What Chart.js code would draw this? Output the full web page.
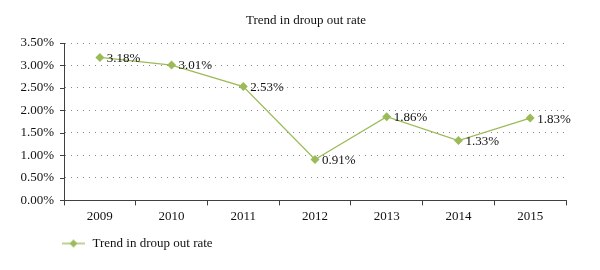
<!doctype html>
<html lang="en">
<head>
<meta charset="utf-8">
<title>Trend in droup out rate</title>
<script src="https://cdn.jsdelivr.net/npm/chart.js@4/dist/chart.umd.min.js"></script>
<style>
  html, body { margin: 0; padding: 0; background: #fff; }
  .wrapper { width: 600px; height: 270px; }
</style>
</head>
<body>
<div class="wrapper">
  <canvas id="canvas" width="600" height="270"></canvas>
</div>
<script>
var years = ["2009", "2010", "2011", "2012", "2013", "2014", "2015"];
var dropRate = [3.18, 3.01, 2.53, 0.91, 1.86, 1.33, 1.83];
var seriesName = "Trend in droup out rate";
var yMax = 3.5;
var yStep = 0.5;

var green = "#9bbb59";
var axisColor = "#404040";
var fontFamily = "'Liberation Serif', 'DejaVu Serif', serif";

// legend symbol: short line with a diamond in the middle (left part kept blank
// so the entry lines up under the plot like the original)
var legendIcon = document.createElement("canvas");
legendIcon.width = 64;
legendIcon.height = 10;
(function () {
  var c = legendIcon.getContext("2d");
  c.strokeStyle = green;
  c.lineWidth = 1.3;
  c.beginPath();
  c.moveTo(40, 5);
  c.lineTo(63, 5);
  c.stroke();
  c.fillStyle = green;
  c.beginPath();
  c.moveTo(51.5, 1);
  c.lineTo(55.5, 5);
  c.lineTo(51.5, 9);
  c.lineTo(47.5, 5);
  c.closePath();
  c.fill();
})();

// value labels next to each point, plus y tick marks outside the axis
var extrasPlugin = {
  id: "extras",
  afterDatasetsDraw: function (chart) {
    var ctx = chart.ctx;
    var meta = chart.getDatasetMeta(0);
    ctx.save();
    ctx.font = "13px " + fontFamily;
    ctx.fillStyle = "#111";
    ctx.textAlign = "left";
    ctx.textBaseline = "middle";
    meta.data.forEach(function (pt, i) {
      ctx.fillText(dropRate[i].toFixed(2) + "%", pt.x + 7, pt.y + 1);
    });
    var y = chart.scales.y;
    var left = chart.chartArea.left;
    ctx.strokeStyle = axisColor;
    ctx.lineWidth = 1;
    y.ticks.forEach(function (t) {
      var py = Math.round(y.getPixelForValue(t.value)) + 0.5;
      ctx.beginPath();
      ctx.moveTo(left - 4, py);
      ctx.lineTo(left, py);
      ctx.stroke();
    });
    ctx.restore();
  }
};

var ctx = document.getElementById("canvas").getContext("2d");
new Chart(ctx, {
  type: "line",
  data: {
    labels: years,
    datasets: [{
      label: seriesName,
      data: dropRate,
      borderColor: green,
      backgroundColor: green,
      borderWidth: 1.3,
      pointStyle: "rectRot",
      pointRadius: 4.5,
      pointBorderWidth: 0,
      tension: 0
    }]
  },
  options: {
    responsive: false,
    animation: false,
    layout: { padding: { top: 13, right: 0, bottom: 10, left: 12 } },
    plugins: {
      title: {
        display: true,
        text: seriesName,
        color: "#111",
        font: { family: fontFamily, size: 13, weight: "normal" },
        padding: { top: 0, bottom: 14.4 }
      },
      legend: {
        position: "bottom",
        align: "start",
        labels: {
          usePointStyle: true,
          pointStyle: legendIcon,
          pointStyleWidth: 64,
          color: "#111",
          font: { family: fontFamily, size: 13 },
          padding: 10
        }
      },
      tooltip: { enabled: false }
    },
    scales: {
      x: {
        offset: true,
        grid: {
          offset: true,
          drawOnChartArea: false,
          drawTicks: true,
          tickLength: 5,
          color: axisColor
        },
        border: { display: true, color: axisColor, width: 1 },
        ticks: {
          color: "#111",
          padding: 3,
          font: { family: fontFamily, size: 13 }
        }
      },
      y: {
        min: 0,
        max: yMax,
        afterFit: function (scale) { scale.width = 52; },
        grid: {
          drawTicks: false,
          color: "#8a8a8a",
          lineWidth: 1
        },
        border: { display: true, color: axisColor, width: 1, dash: [1, 5] },
        ticks: {
          stepSize: yStep,
          padding: 10,
          color: "#111",
          font: { family: fontFamily, size: 13 },
          callback: function (v) { return v.toFixed(2) + "%"; }
        }
      },
      // empty right-hand spacer so the title centres like the original
      spacer: {
        position: "right",
        min: 0,
        max: yMax,
        afterFit: function (scale) { scale.width = 34; },
        grid: { display: false },
        border: { display: false },
        ticks: { display: false }
      }
    }
  },
  plugins: [extrasPlugin]
});
</script>
</body>
</html>
